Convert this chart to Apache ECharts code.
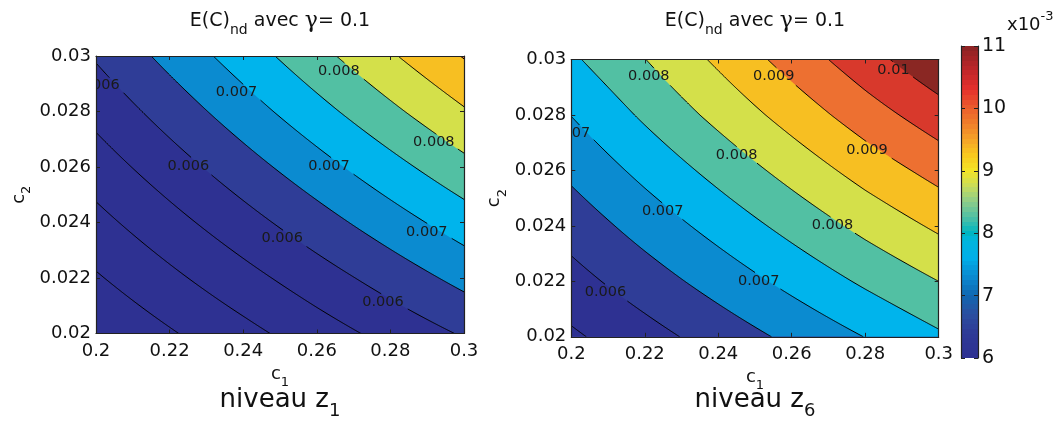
<!DOCTYPE html>
<html><head><meta charset="utf-8">
<script src="https://cdn.jsdelivr.net/npm/echarts@6/dist/echarts.min.js"></script>
<style>html,body{margin:0;padding:0;background:#fff}#c{width:1060px;height:421px}</style>
</head><body><div id="c"></div>
<script>
// ---------------- data ----------------
const c1Ticks = [0.2, 0.22, 0.24, 0.26, 0.28, 0.3];
const c2Ticks = [0.02, 0.022, 0.024, 0.026, 0.028, 0.03];
const c1TickLabels = ['0.2', '0.22', '0.24', '0.26', '0.28', '0.3'];
const c2TickLabels = ['0.02', '0.022', '0.024', '0.026', '0.028', '0.03'];
const levels = [0.004, 0.0045, 0.005, 0.0055, 0.006, 0.0065, 0.007, 0.0075, 0.008, 0.0085, 0.009, 0.0095, 0.01, 0.0105];
// rows: c2 = 0.02 ... 0.03 ; columns: c1 = 0.2 ... 0.3
const z1Values = [
  [0.00405, 0.00445, 0.00485, 0.00526, 0.00566, 0.00605],
  [0.00445, 0.00489, 0.00533, 0.00577, 0.00621, 0.00665],
  [0.00485, 0.00533, 0.00581, 0.00629, 0.00677, 0.00725],
  [0.00525, 0.00577, 0.00629, 0.00681, 0.00733, 0.00785],
  [0.00565, 0.00621, 0.00677, 0.00733, 0.00789, 0.00845],
  [0.00605, 0.00665, 0.00724, 0.00784, 0.00844, 0.00903]
];
const z6Values = [
  [0.00542, 0.00581, 0.00621, 0.00661, 0.00701, 0.00742],
  [0.00582, 0.00626, 0.00670, 0.00714, 0.00758, 0.00800],
  [0.00621, 0.00670, 0.00718, 0.00766, 0.00814, 0.00859],
  [0.00661, 0.00714, 0.00766, 0.00818, 0.00870, 0.00918],
  [0.00701, 0.00758, 0.00814, 0.00870, 0.00926, 0.00978],
  [0.00742, 0.00799, 0.00859, 0.00920, 0.00980, 0.01039]
];
const z1LabelC1 = [0.2008, 0.2382, 0.2660, 0.2251, 0.2633, 0.2918, 0.2506, 0.2899, 0.2780];
const z1LabelC2 = [0.02893, 0.02869, 0.02945, 0.02603, 0.02603, 0.02689, 0.02342, 0.02366, 0.02114];
const z1LabelText = ['0.006', '0.007', '0.008', '0.006', '0.007', '0.008', '0.006', '0.007', '0.006'];
const z6LabelC1 = [0.2211, 0.2551, 0.2877, 0.1995, 0.2450, 0.2805, 0.2249, 0.2711, 0.2510, 0.2093];
const z6LabelC2 = [0.02939, 0.02939, 0.02963, 0.02734, 0.02656, 0.02674, 0.02454, 0.02403, 0.02202, 0.02160];
const z6LabelText = ['0.008', '0.009', '0.01', '0.007', '0.008', '0.009', '0.007', '0.008', '0.007', '0.006'];
const cbTicks = [6, 7, 8, 9, 10, 11];
const cbTickLabels = ['6', '7', '8', '9', '10', '11'];

// ---------------- styles ----------------
const FONT = 'DejaVu Sans';
const INK = '#111';
const NAVY = '#2e3192';
const bandColors = [NAVY, NAVY, NAVY, NAVY, '#2f3d97', '#0b8bd0', '#00b4ec', '#52c0a3', '#d4e04a', '#f7bf22', '#ed7031', '#d8392c', '#8a2723', '#8a2723'];
const cbStopValues = [6.0, 6.4, 6.7, 7.0, 7.3, 7.6, 7.9, 8.0, 8.25, 8.5, 8.75, 9.0, 9.25, 9.5, 9.75, 10.0, 10.3, 10.6, 11.0];
const cbStopColors = ['#2e3192', '#2e3a96', '#2b4ea0', '#1066b0', '#0a8ad0', '#00aee8', '#00b6dc', '#00b5c0', '#4cbfa6', '#8ccc8a', '#c8dc5a', '#f3e526', '#f8c81e', '#f5a428', '#f07f2a', '#ec5f2c', '#e5302c', '#c0262a', '#892323'];

// ---------------- contour helpers ----------------
const c1Min = c1Ticks[0], c1Max = c1Ticks[c1Ticks.length - 1];
const c2Min = c2Ticks[0], c2Max = c2Ticks[c2Ticks.length - 1];

function columnAt(values, c1) {
  let i = 0;
  while (i < c1Ticks.length - 2 && c1 > c1Ticks[i + 1]) i++;
  const t = (c1 - c1Ticks[i]) / (c1Ticks[i + 1] - c1Ticks[i]);
  return values.map(row => row[i] * (1 - t) + row[i + 1] * t);
}
function crossPiecewise(xs, vs, L) {
  for (let j = 0; j < xs.length - 1; j++) {
    const a = vs[j], b = vs[j + 1];
    if ((L >= a && L <= b) || (L <= a && L >= b)) {
      if (b === a) return xs[j];
      return xs[j] + (L - a) / (b - a) * (xs[j + 1] - xs[j]);
    }
  }
  return null;
}
function trace(values, L) {
  const n = 360, pts = [];
  let prev = null;
  for (let k = 0; k <= n; k++) {
    const c1 = c1Min + (c1Max - c1Min) * k / n;
    const col = columnAt(values, c1);
    let st, c2;
    if (L <= col[0]) { st = 'B'; c2 = c2Min; }
    else if (L > col[col.length - 1]) { st = 'T'; c2 = c2Max; }
    else { st = 'I'; c2 = crossPiecewise(c2Ticks, col, L); }
    if (prev && prev !== st) {
      if (prev === 'T' && st === 'I') {
        const x = crossPiecewise(c1Ticks, values[values.length - 1], L);
        if (x !== null) pts.push({ c1: x, c2: c2Max, on: true });
      } else if (prev === 'I' && st === 'B') {
        const x = crossPiecewise(c1Ticks, values[0], L);
        if (x !== null) pts.push({ c1: x, c2: c2Min, on: true });
      }
    }
    pts.push({ c1: c1, c2: c2, on: st === 'I' });
    prev = st;
  }
  return pts;
}

function contourSeries(g, values, labC1, labC2, labText) {
  return {
    type: 'custom', coordinateSystem: 'cartesian2d',
    xAxisIndex: g * 2, yAxisIndex: g * 2, clip: true, silent: true, z: 2,
    data: [[c1Min, c2Min]],
    renderItem: function (params, api) {
      const children = [];
      const tl = api.coord([c1Min, c2Max]), br = api.coord([c1Max, c2Min]);
      children.push({ type: 'rect', shape: { x: tl[0], y: tl[1], width: br[0] - tl[0], height: br[1] - tl[1] }, style: { fill: NAVY } });
      const lines = [];
      levels.forEach((L, k) => {
        const pts = trace(values, L);
        const poly = pts.map(p => api.coord([p.c1, p.c2]));
        poly.push(api.coord([c1Max, c2Max]));
        poly.push(api.coord([c1Min, c2Max]));
        children.push({ type: 'polygon', shape: { points: poly }, style: { fill: bandColors[k], stroke: null } });
        const on = pts.filter(p => p.on).map(p => api.coord([p.c1, p.c2]));
        if (on.length > 1) lines.push(on);
      });
      const boxes = labText.map((t, i) => {
        const c = api.coord([labC1[i], labC2[i]]);
        return { x: c[0], y: c[1], hw: t.length * 4.4 + 2, hh: 8, t: t };
      });
      const pushLine = seg => children.push({ type: 'polyline', shape: { points: seg }, style: { stroke: '#000', lineWidth: 1, fill: null } });
      lines.forEach(line => {
        let seg = [];
        line.forEach(pt => {
          const inside = boxes.some(b => Math.abs(pt[0] - b.x) < b.hw && Math.abs(pt[1] - b.y) < b.hh);
          if (inside) { if (seg.length > 1) pushLine(seg); seg = []; }
          else seg.push(pt);
        });
        if (seg.length > 1) pushLine(seg);
      });
      boxes.forEach(b => children.push({
        type: 'text', x: b.x, y: b.y,
        style: { text: b.t, fontSize: 14.5, fontFamily: FONT, fill: '#1a1a1a', align: 'center', verticalAlign: 'middle' }
      }));
      return { type: 'group', children: children };
    }
  };
}

function cbColorAt(v) {
  for (let j = 0; j < cbStopValues.length - 1; j++) {
    if (v >= cbStopValues[j] && v <= cbStopValues[j + 1]) {
      const t = (v - cbStopValues[j]) / (cbStopValues[j + 1] - cbStopValues[j]);
      const a = echarts.color.parse(cbStopColors[j]), b = echarts.color.parse(cbStopColors[j + 1]);
      return 'rgb(' + [0, 1, 2].map(q => Math.round(a[q] + (b[q] - a[q]) * t)).join(',') + ')';
    }
  }
  return cbStopColors[cbStopColors.length - 1];
}

// ---------------- axes ----------------
const grids = [
  { left: 96, top: 56, width: 368, height: 277.5 },
  { left: 571.3, top: 59.5, width: 367.4, height: 277.3 },
  { left: 961, top: 46, width: 17, height: 312 }
];
const lineStyle = { color: '#222', width: 1.2 };
const subRich = () => ({
  m: { fontSize: 18, fontFamily: FONT, color: INK, padding: [0, 0, 6, 0] },
  s: { fontSize: 13, fontFamily: FONT, color: INK, padding: [10, 0, 0, 0] }
});
function xAxes(g, sub) {
  const base = {
    gridIndex: g, type: 'value', min: c1Min, max: c1Max, interval: 0.02, z: 5,
    axisLine: { show: true, onZero: false, lineStyle: lineStyle },
    axisTick: { show: true, inside: true, length: 4, lineStyle: { color: '#222' } },
    splitLine: { show: false }
  };
  return [
    Object.assign({}, base, {
      position: 'bottom',
      axisLabel: { fontSize: 18, fontFamily: FONT, color: INK, margin: 9,
        formatter: v => c1TickLabels[Math.round((v - c1Min) / 0.02)] },
      name: '{m|c}{s|' + sub + '}', nameLocation: 'middle', nameGap: 20,
      nameTextStyle: { rich: subRich() }
    }),
    Object.assign({}, base, { position: 'top', axisLabel: { show: false } })
  ];
}
function yAxes(g, sub) {
  const base = {
    gridIndex: g, type: 'value', min: c2Min, max: c2Max, interval: 0.002, z: 5,
    axisLine: { show: true, onZero: false, lineStyle: lineStyle },
    axisTick: { show: true, inside: true, length: 4, lineStyle: { color: '#222' } },
    splitLine: { show: false }
  };
  return [
    Object.assign({}, base, {
      position: 'left',
      axisLabel: { fontSize: 18, fontFamily: FONT, color: INK, margin: 5,
        formatter: v => c2TickLabels[Math.round((v - c2Min) / 0.002)] },
      name: '{m|c}{s|' + sub + '}', nameLocation: 'middle', nameGap: 62,
      nameTextStyle: { rich: subRich() }
    }),
    Object.assign({}, base, { position: 'right', axisLabel: { show: false } })
  ];
}

const cbXAxis = { gridIndex: 2, type: 'value', min: 0, max: 1, show: false };
const cbBase = {
  gridIndex: 2, type: 'value', min: cbTicks[0], max: cbTicks[cbTicks.length - 1], interval: 1, z: 5,
  axisLine: { show: true, onZero: false, lineStyle: lineStyle },
  axisTick: { show: true, inside: true, length: 4, lineStyle: { color: '#222' } },
  splitLine: { show: false }
};
const cbYAxes = [
  Object.assign({}, cbBase, { position: 'left', axisLabel: { show: false } }),
  Object.assign({}, cbBase, { position: 'right',
    axisLabel: { fontSize: 19, fontFamily: FONT, color: INK, margin: 4,
      formatter: v => cbTickLabels[cbTicks.indexOf(Math.round(v))] } })
];

const colorbarSeries = {
  type: 'custom', coordinateSystem: 'cartesian2d', xAxisIndex: 4, yAxisIndex: 4, silent: true, z: 2,
  data: [[0, cbTicks[0], 1, cbTicks[cbTicks.length - 1]]],
  renderItem: function (params, api) {
    const lo = api.value(1), hi = api.value(3);
    const a = api.coord([api.value(0), hi]), b = api.coord([api.value(2), lo]);
    const steps = 64, stops = [];
    for (let s = 0; s < steps; s++) {
      const col = cbColorAt(lo + (hi - lo) * (s + 0.5) / steps);
      stops.push({ offset: s / steps, color: col });
      stops.push({ offset: (s + 1) / steps, color: col });
    }
    return { type: 'rect', shape: { x: a[0], y: a[1], width: b[0] - a[0], height: b[1] - a[1] },
      style: { fill: new echarts.graphic.LinearGradient(0, 1, 0, 0, stops) } };
  }
};

function titleText(x, y) {
  return { type: 'text', x: x, y: y, z: 10,
    style: { text: '{m|E(C)}{s|nd}{m| avec }{g|γ}{m|= 0.1}', align: 'center', verticalAlign: 'middle',
      rich: {
        m: { fontSize: 19, fontFamily: FONT, fill: INK, color: INK, padding: [0, 0, 6, 0] },
        s: { fontSize: 14, fontFamily: FONT, fill: INK, color: INK, padding: [12, 0, 0, 0] },
        g: { fontSize: 22, fontFamily: 'DejaVu Serif', fill: INK, color: INK, padding: [0, 0, 6, 0] }
      } } };
}
function niveauText(x, y, sub) {
  return { type: 'text', x: x, y: y, z: 10,
    style: { text: '{m|niveau z}{s|' + sub + '}', align: 'center', verticalAlign: 'middle',
      rich: {
        m: { fontSize: 26, fontFamily: FONT, fill: INK, color: INK, padding: [0, 0, 8, 0] },
        s: { fontSize: 18, fontFamily: FONT, fill: INK, color: INK, padding: [14, 0, 0, 0] }
      } } };
}

const chart = echarts.init(document.getElementById('c'), null, { renderer: 'canvas' });
chart.setOption({
  animation: false,
  backgroundColor: '#fff',
  grid: grids,
  xAxis: xAxes(0, '1').concat(xAxes(1, '1')).concat([cbXAxis]),
  yAxis: yAxes(0, '2').concat(yAxes(1, '2')).concat(cbYAxes),
  series: [
    contourSeries(0, z1Values, z1LabelC1, z1LabelC2, z1LabelText),
    contourSeries(1, z6Values, z6LabelC1, z6LabelC2, z6LabelText),
    colorbarSeries
  ],
  graphic: [
    titleText(280, 24),
    titleText(755, 24),
    niveauText(280, 404, '1'),
    niveauText(755, 404, '6'),
    { type: 'text', x: 1007, y: 21, z: 10,
      style: { text: '{m|x10}{s|-3}', align: 'left', verticalAlign: 'middle',
        rich: {
          m: { fontSize: 18, fontFamily: FONT, fill: INK, color: INK, padding: [9, 0, 0, 0] },
          s: { fontSize: 13, fontFamily: FONT, fill: INK, color: INK, padding: [0, 0, 9, 0] }
        } } }
  ]
});
</script>
</body></html>
